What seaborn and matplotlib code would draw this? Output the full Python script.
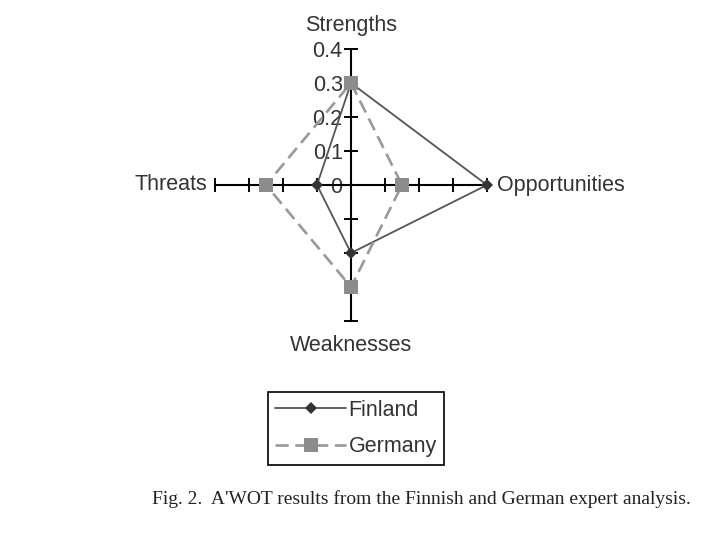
import numpy as np
import pandas as pd
import matplotlib
matplotlib.use("Agg")
import matplotlib.pyplot as plt
import seaborn as sns

# SWOT group weights
axes_names = ['Strengths', 'Opportunities', 'Weaknesses', 'Threats']
finland = [0.30, 0.40, 0.20, 0.10]
germany = [0.30, 0.15, 0.30, 0.25]
ticks = [0.1, 0.2, 0.3, 0.4]

# direction of each arm: top, right, bottom, left
dirs = {'Strengths': (0, 1), 'Opportunities': (1, 0),
        'Weaknesses': (0, -1), 'Threats': (-1, 0)}


def to_long(name, vals):
    rows = []
    order = axes_names + [axes_names[0]]  # close the polygon
    vals = list(vals) + [vals[0]]
    for i, (a, v) in enumerate(zip(order, vals)):
        dx, dy = dirs[a]
        rows.append({'country': name, 'step': i, 'x': dx * v, 'y': dy * v})
    return rows


df = pd.DataFrame(to_long('Finland', finland) + to_long('Germany', germany))

sns.set_style('white')
plt.rcParams['font.family'] = ['Liberation Sans', 'DejaVu Sans']

fig = plt.figure(figsize=(7.2, 5.4), dpi=100)
ax = fig.add_axes([215 / 720, 1 - 321 / 540, 272 / 720, 272 / 540])

sns.lineplot(data=df, x='x', y='y', hue='country', style='country',
             sort=False, estimator=None, ax=ax, legend=False,
             palette={'Finland': '#555555', 'Germany': '#999999'},
             markers={'Finland': 'D', 'Germany': 's'},
             dashes={'Finland': '', 'Germany': (5, 2.5)},
             markeredgewidth=0, clip_on=False, zorder=5)

lines = ax.get_lines()
fin_line, ger_line = lines[0], lines[1]
fin_line.set_linewidth(1.3)
fin_line.set_markersize(6.5)
fin_line.set_markerfacecolor('#333333')
ger_line.set_linewidth(1.9)
ger_line.set_markersize(10)
ger_line.set_markerfacecolor('#8c8c8c')

ax.set_xlim(-0.4, 0.4)
ax.set_ylim(-0.4, 0.4)
ax.set_xlabel('')
ax.set_ylabel('')
for s in ['top', 'right']:
    ax.spines[s].set_visible(False)
for s in ['left', 'bottom']:
    ax.spines[s].set_position(('data', 0))
    ax.spines[s].set_color('black')
    ax.spines[s].set_linewidth(1.5)
    ax.spines[s].set_zorder(2)

all_ticks = [-t for t in ticks[::-1]] + [0] + ticks
ax.set_xticks([t for t in all_ticks if t != 0])
ax.set_xticklabels([])
ax.set_yticks(all_ticks)
ax.set_yticklabels(['' if t < 0 else ('0' if t == 0 else f'{t:.1f}') for t in all_ticks])
ax.tick_params(axis='both', direction='inout', length=10, width=1.4, color='black',
               labelsize=15.5, labelcolor='#333333', pad=1)
ax.tick_params(axis='y', left=True)
ax.tick_params(axis='x', bottom=True)

txt = dict(fontsize=15.5, color='#333333')
ax.text(0, 0.47, 'Strengths', ha='center', va='center', **txt)
ax.text(0.43, 0, 'Opportunities', ha='left', va='center', **txt)
ax.text(-0.424, 0, 'Threats', ha='right', va='center', **txt)
ax.text(0, -0.473, 'Weaknesses', ha='center', va='center', **txt)

leg = fig.legend([fin_line, ger_line], ['Finland', 'Germany'], loc='center',
                 bbox_to_anchor=(356 / 720, 1 - 428.5 / 540), fancybox=False,
                 edgecolor='black', framealpha=1, fontsize=15.5, handlelength=3.3,
                 handletextpad=0.1, borderpad=0.35, labelspacing=0.7,
                 borderaxespad=0)
leg.get_frame().set_linewidth(1.2)
for t in leg.get_texts():
    t.set_color('#333333')

fig.text(421 / 720, 1 - 499 / 540,
         "Fig. 2.  A'WOT results from the Finnish and German expert analysis.",
         ha='center', va='center', fontsize=14,
         family=['Liberation Serif', 'DejaVu Serif'], color='#222222')

fig.savefig('out.png', dpi=100)
